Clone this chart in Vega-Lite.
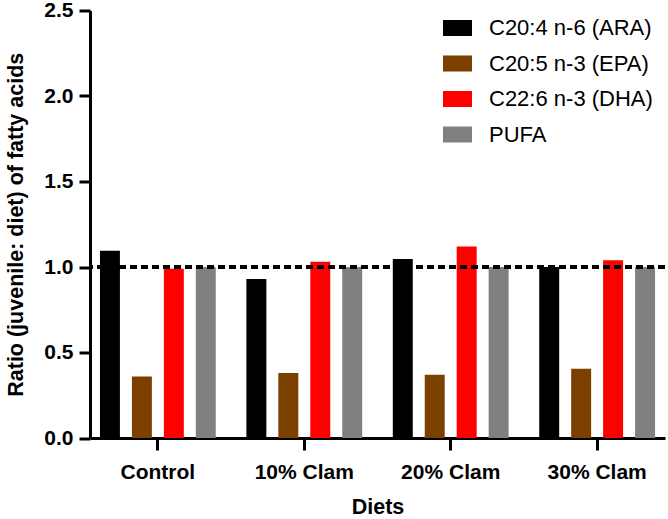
{
  "$schema": "https://vega.github.io/schema/vega-lite/v6.json",
  "width": 575,
  "height": 427.5,
  "autosize": {"type": "none"},
  "padding": {"left": 90, "top": 10.5, "right": 3, "bottom": 81},
  "background": "white",
  "config": {
    "view": {"stroke": null},
    "font": "Liberation Sans",
    "axis": {
      "domainColor": "black", "domainWidth": 3, "tickColor": "black", "tickWidth": 3,
      "labelColor": "black", "titleColor": "black", "labelFont": "Liberation Sans", "titleFont": "Liberation Sans",
      "labelFontWeight": "bold", "titleFontWeight": "bold", "labelFontSize": 21, "titleFontSize": 21.5, "grid": false
    },
    "legend": {"labelFont": "Liberation Sans", "labelFontSize": 22, "labelColor": "black", "labelLimit": 400}
  },
  "data": {
    "values": [
      {"diet": "Control", "fa": "C20:4 n-6 (ARA)", "value": 1.095},
      {"diet": "Control", "fa": "C20:5 n-3 (EPA)", "value": 0.36},
      {"diet": "Control", "fa": "C22:6 n-3 (DHA)", "value": 0.99},
      {"diet": "Control", "fa": "PUFA", "value": 1.0},
      {"diet": "10% Clam", "fa": "C20:4 n-6 (ARA)", "value": 0.93},
      {"diet": "10% Clam", "fa": "C20:5 n-3 (EPA)", "value": 0.38},
      {"diet": "10% Clam", "fa": "C22:6 n-3 (DHA)", "value": 1.03},
      {"diet": "10% Clam", "fa": "PUFA", "value": 1.0},
      {"diet": "20% Clam", "fa": "C20:4 n-6 (ARA)", "value": 1.047},
      {"diet": "20% Clam", "fa": "C20:5 n-3 (EPA)", "value": 0.37},
      {"diet": "20% Clam", "fa": "C22:6 n-3 (DHA)", "value": 1.12},
      {"diet": "20% Clam", "fa": "PUFA", "value": 1.0},
      {"diet": "30% Clam", "fa": "C20:4 n-6 (ARA)", "value": 1.0},
      {"diet": "30% Clam", "fa": "C20:5 n-3 (EPA)", "value": 0.405},
      {"diet": "30% Clam", "fa": "C22:6 n-3 (DHA)", "value": 1.04},
      {"diet": "30% Clam", "fa": "PUFA", "value": 1.0}
    ]
  },
  "layer": [
    {
      "mark": {"type": "bar"},
      "encoding": {
        "x": {
          "field": "diet", "type": "nominal", "sort": ["Control", "10% Clam", "20% Clam", "30% Clam"],
          "scale": {"paddingInner": 0.209, "paddingOuter": 0.068},
          "axis": {"title": "Diets", "labelAngle": 0, "tickSize": 12, "labelPadding": 11, "titlePadding": 14}
        },
        "xOffset": {
          "field": "fa", "type": "nominal",
          "sort": ["C20:4 n-6 (ARA)", "C20:5 n-3 (EPA)", "C22:6 n-3 (DHA)", "PUFA"],
          "scale": {"paddingInner": 0.375, "paddingOuter": 0}
        },
        "y": {
          "field": "value", "type": "quantitative",
          "scale": {"domain": [0, 2.5], "nice": false},
          "axis": {"title": "Ratio (juvenile: diet) of fatty acids", "values": [0, 0.5, 1, 1.5, 2, 2.5], "format": ".1f", "tickSize": 11, "labelPadding": 6, "titlePadding": 16}
        },
        "color": {
          "field": "fa", "type": "nominal",
          "sort": ["C20:4 n-6 (ARA)", "C20:5 n-3 (EPA)", "C22:6 n-3 (DHA)", "PUFA"],
          "scale": {"domain": ["C20:4 n-6 (ARA)", "C20:5 n-3 (EPA)", "C22:6 n-3 (DHA)", "PUFA"], "range": ["#000000", "#7B3F00", "#FF0000", "#808080"]},
          "legend": {
            "title": null, "orient": "none", "legendX": 353, "legendY": 3, "padding": 0,
            "symbolType": "M-1,-0.552L1,-0.552L1,0.552L-1,0.552Z", "symbolSize": 841, "symbolStrokeWidth": 0,
            "symbolOpacity": 1, "labelOffset": 17, "rowPadding": 9.5, "labelLimit": 400
          }
        }
      }
    },
    {
      "mark": {"type": "rule", "color": "black", "strokeWidth": 3, "strokeDash": [7, 4]},
      "encoding": {"y": {"datum": 1}}
    }
  ]
}
